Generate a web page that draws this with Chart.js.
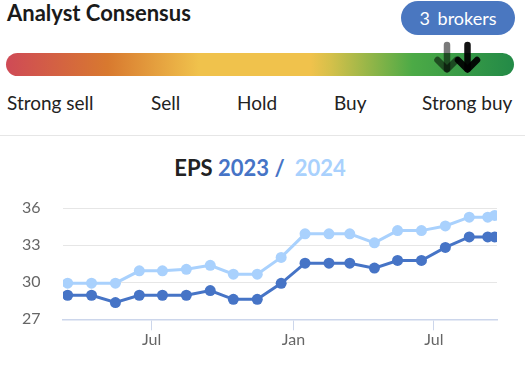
<!DOCTYPE html>
<html>
<head>
<meta charset="utf-8">
<script src="https://cdn.jsdelivr.net/npm/chart.js@4"></script>
<style>
  html, body { margin:0; padding:0; background:#fff; }
  body { width:525px; height:365px; position:relative; overflow:hidden; font-family:'Lato', sans-serif; }
  .abs { position:absolute; white-space:nowrap; }
  #title { left:7px; top:1.5px; font-size:22px; line-height:22px; font-weight:700; color:#1a1a1a; }
  #pill { left:401px; top:1px; width:114px; height:34px; border-radius:17px; background:#4a77c0; color:#fff;
          font-size:18px; line-height:34px; text-align:center; word-spacing:3px; }
  #bar { left:6px; top:53px; width:508px; height:23px; border-radius:11.5px;
         background:linear-gradient(to right, #cf4a56 0%, #d8792f 20%, #f0c24c 38%, #f0c24c 60%, #d4c04a 64%, #4caa46 80%, #238a47 100%); }
  .lbl { font-size:19px; line-height:19px; color:#222; top:93px; }
  #sep { left:0; top:135px; width:525px; height:1px; background:#e6e6e6; }
  #eps { left:0; width:520px; top:157px; text-align:center; font-size:22px; line-height:22px; font-weight:700; color:#222; }
  #wrap { left:0; top:190px; width:525px; height:175px; }
</style>
</head>
<body>
<div id="title" class="abs">Analyst Consensus</div>
<div id="pill" class="abs">3 brokers</div>
<div id="bar" class="abs"></div>
<svg class="abs" style="left:0;top:0" width="525" height="90">
  <g fill="none" stroke-linecap="round" stroke-linejoin="round" stroke-width="6.5">
    <g stroke="rgba(0,0,0,0.52)"><path d="M447 45 L447 69"/><path d="M437.5 60 L447 69.5 L456.5 60"/></g>
    <g stroke="rgba(0,0,0,0.93)"><path d="M467.5 45 L467.5 69"/><path d="M458 60 L467.5 69.5 L477 60"/></g>
  </g>
</svg>
<div class="abs lbl" style="left:7px">Strong sell</div>
<div class="abs lbl" style="left:151px">Sell</div>
<div class="abs lbl" style="left:237px">Hold</div>
<div class="abs lbl" style="left:334px">Buy</div>
<div class="abs lbl" style="left:422px">Strong buy</div>
<div id="sep" class="abs"></div>
<div id="eps" class="abs">EPS <span style="color:#4674c6">2023</span><span style="color:#4674c6"> /</span><span style="color:#a9d1fd;margin-left:10px">2024</span></div>
<div id="wrap" class="abs"><canvas id="c" width="525" height="175"></canvas></div>
<script>
const dates = ['2023-03-14','2023-04-14','2023-05-15','2023-06-15','2023-07-15','2023-08-15','2023-09-15','2023-10-15','2023-11-15','2023-12-16','2024-01-16','2024-02-16','2024-03-14','2024-04-15','2024-05-15','2024-06-15','2024-07-16','2024-08-16','2024-09-09','2024-09-18'];
const eps2023 = [28.95,28.95,28.36,28.95,28.95,28.95,29.33,28.62,28.62,29.92,31.55,31.55,31.55,31.15,31.77,31.77,32.83,33.68,33.68,33.68];
const eps2024 = [29.93,29.93,29.93,30.93,30.93,31.05,31.38,30.66,30.66,32.02,33.93,33.93,33.93,33.2,34.19,34.19,34.57,35.28,35.28,35.42];
const tickDates = ['2023-07-01','2024-01-01','2024-07-01'];
const tickLabels = ['Jul','Jan','Jul'];
const xRange = ['2023-03-08','2024-09-21'];
const yTicks = [27,30,33,36];

const day = s => { const [y,m,d] = s.split('-').map(Number); return Date.UTC(y,m-1,d)/86400000; };
const tickDays = tickDates.map(day);
const toPts = arr => arr.map((v,i) => ({x: day(dates[i]), y: v}));

const DARK = '#4674c6', LIGHT = '#a9d1fd';
new Chart(document.getElementById('c'), {
  type: 'line',
  data: {
    datasets: [
      { label:'2024', data: toPts(eps2024), borderColor: LIGHT, backgroundColor: LIGHT, borderWidth:3, pointRadius:5.5, pointHoverRadius:5.5, pointBorderWidth:0, tension:0 },
      { label:'2023', data: toPts(eps2023), borderColor: DARK, backgroundColor: DARK, borderWidth:3, pointRadius:5.5, pointHoverRadius:5.5, pointBorderWidth:0, tension:0 }
    ]
  },
  options: {
    responsive:false, animation:false, devicePixelRatio:1,
    layout: { padding: { top:18.3, right:28, left:22, bottom:0 } },
    plugins: { legend:{display:false}, tooltip:{enabled:false}, title:{display:false} },
    scales: {
      x: {
        type:'linear', position:'bottom', min: day(xRange[0]), max: day(xRange[1]),
        afterBuildTicks: a => { a.ticks = tickDays.map(v => ({value:v})); },
        afterFit: a => { a.height = 45.7; },
        ticks: { autoSkip:false, maxRotation:0, color:'#666', font:{family:'Lato', size:16}, padding:0,
                 callback: (v, i) => tickLabels[i] },
        grid: { drawOnChartArea:false, drawTicks:true, tickLength:11, color:'#ccd6eb', lineWidth:1 },
        border: { display:true, color:'#ccd6eb', width:1.5 }
      },
      y: {
        min: yTicks[0], max: yTicks[yTicks.length-1],
        afterBuildTicks: a => { a.ticks = yTicks.map(v => ({value:v})); },
        afterFit: a => { a.width = 41; },
        ticks: { color:'#666', font:{family:'Lato', size:16}, padding:0, crossAlign:'far' },
        grid: { color:'#e6e6e6', lineWidth:1, drawTicks:false },
        border: { display:false }
      }
    }
  }
});
</script>
</body>
</html>
